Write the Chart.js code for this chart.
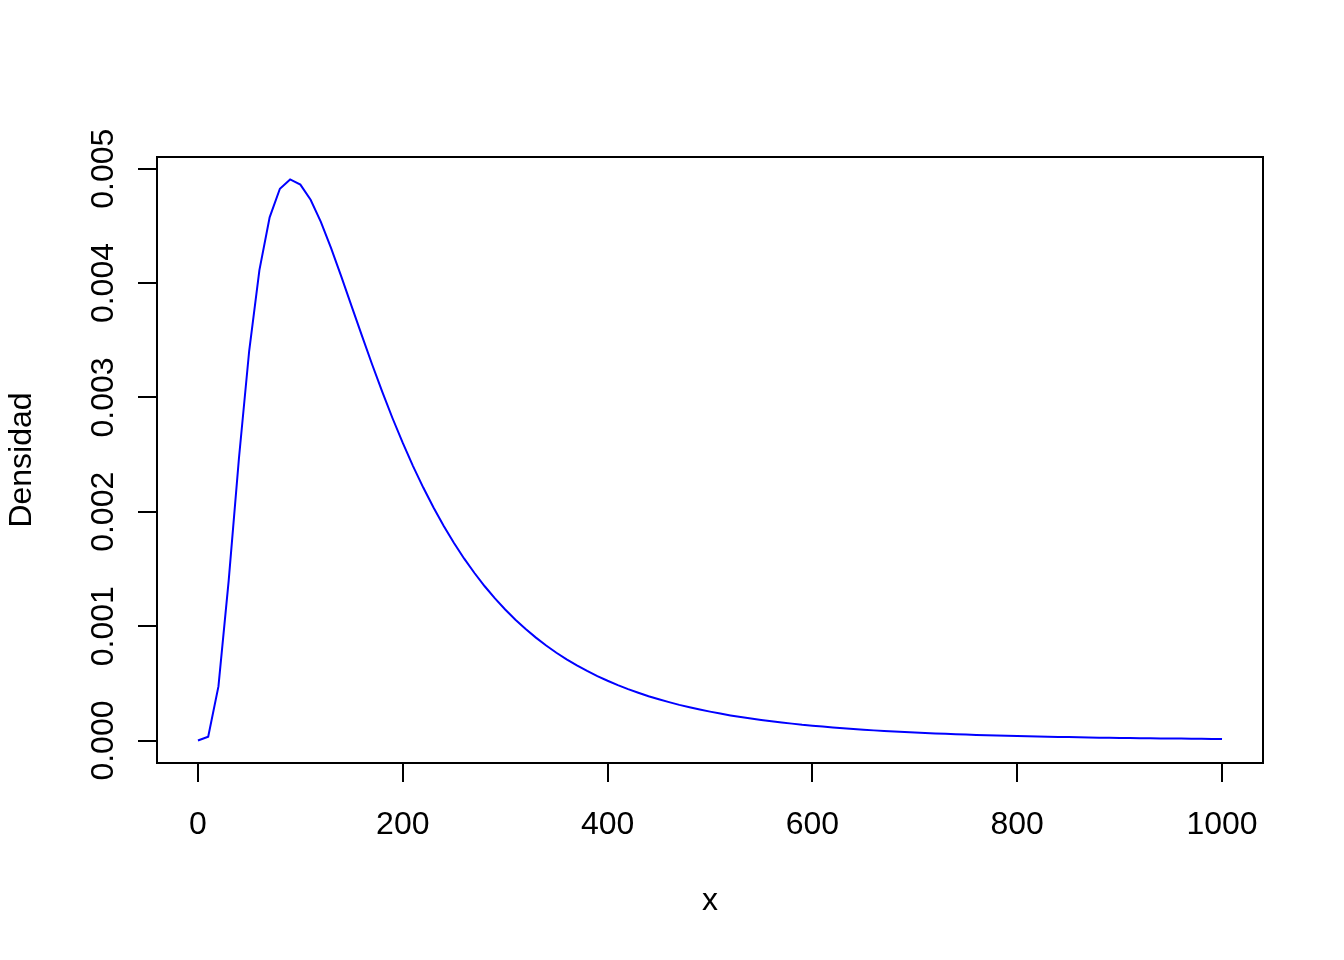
<!DOCTYPE html>
<html>
<head>
<meta charset="utf-8">
<script src="https://cdn.jsdelivr.net/npm/chart.js@4/dist/chart.umd.min.js"></script>
<style>
  body { margin: 0; background: #fff; }
  canvas { display: block; }
</style>
</head>
<body>
<canvas id="densChart" width="1344" height="960"></canvas>
<script>
// x grid of the curve (step 10)
var xs = [0, 10, 20, 30, 40, 50, 60, 70, 80, 90,
  100, 110, 120, 130, 140, 150, 160, 170, 180, 190,
  200, 210, 220, 230, 240, 250, 260, 270, 280, 290,
  300, 310, 320, 330, 340, 350, 360, 370, 380, 390,
  400, 410, 420, 430, 440, 450, 460, 470, 480, 490,
  500, 510, 520, 530, 540, 550, 560, 570, 580, 590,
  600, 610, 620, 630, 640, 650, 660, 670, 680, 690,
  700, 710, 720, 730, 740, 750, 760, 770, 780, 790,
  800, 810, 820, 830, 840, 850, 860, 870, 880, 890,
  900, 910, 920, 930, 940, 950, 960, 970, 980, 990, 1000];

// density
var dens = [0, 0.000034, 0.000473, 0.001399, 0.002466, 0.003406, 0.004113, 0.004575, 0.004825, 0.004906,
  0.004861, 0.004728, 0.004535, 0.004306, 0.004057, 0.003799, 0.003542, 0.003290, 0.003048, 0.002818,
  0.002602, 0.002400, 0.002212, 0.002037, 0.001876, 0.001727, 0.001590, 0.001465, 0.001349, 0.001243,
  0.001146, 0.001057, 0.000975, 0.000900, 0.000831, 0.000768, 0.000710, 0.000657, 0.000609, 0.000564,
  0.000523, 0.000485, 0.000450, 0.000418, 0.000388, 0.000361, 0.000336, 0.000312, 0.000291, 0.000271,
  0.000253, 0.000236, 0.000220, 0.000206, 0.000192, 0.000180, 0.000168, 0.000158, 0.000148, 0.000138,
  0.000130, 0.000122, 0.000114, 0.000107, 0.000101, 0.0000947, 0.0000890, 0.0000837, 0.0000788, 0.0000742,
  0.0000699, 0.0000659, 0.0000621, 0.0000586, 0.0000553, 0.0000522, 0.0000493, 0.0000466, 0.0000440, 0.0000416,
  0.0000394, 0.0000372, 0.0000353, 0.0000334, 0.0000316, 0.0000300, 0.0000284, 0.0000269, 0.0000255, 0.0000242,
  0.0000230, 0.0000218, 0.0000208, 0.0000197, 0.0000187, 0.0000178, 0.0000169, 0.0000161, 0.0000153, 0.0000146,
  0.0000139];

var xTicks = [0, 200, 400, 600, 800, 1000];
var xTickLabels = ["0", "200", "400", "600", "800", "1000"];
var yTicks = [0, 0.001, 0.002, 0.003, 0.004, 0.005];
var yTickLabels = ["0.000", "0.001", "0.002", "0.003", "0.004", "0.005"];

var fontFam = "'Liberation Sans', Arial, Helvetica, sans-serif";

// R style axis range: data range + 4% each side
var xMin = xs[0], xMax = xs[xs.length - 1];
var yMin = Math.min.apply(null, dens), yMax = Math.max.apply(null, dens);
var xPad = (xMax - xMin) * 0.04, yPad = (yMax - yMin) * 0.04;

// box round the plot + rotated y tick labels like base R
var boxPlugin = {
  id: "boxPlugin",
  afterDraw: function (chart) {
    var ctx = chart.ctx;
    var a = chart.chartArea;
    ctx.save();
    ctx.strokeStyle = "#000";
    ctx.lineWidth = 2;
    ctx.strokeRect(a.left, a.top, a.right - a.left, a.bottom - a.top);
    var ys = chart.scales.y;
    ctx.fillStyle = "#000";
    ctx.font = "32px " + fontFam;
    ctx.textAlign = "center";
    ctx.textBaseline = "alphabetic";
    for (var i = 0; i < yTicks.length; i++) {
      var py = ys.getPixelForValue(yTicks[i]);
      ctx.save();
      ctx.translate(113, py);
      ctx.rotate(-Math.PI / 2);
      ctx.fillText(yTickLabels[i], 0, 0);
      ctx.restore();
    }
    ctx.restore();
  }
};

var points = xs.map(function (x, i) { return { x: x, y: dens[i] }; });

var ctx = document.getElementById("densChart").getContext("2d");
var densChart = new Chart(ctx, {
  type: "line",
  data: {
    datasets: [{
      data: points,
      borderColor: "#0000FF",
      borderWidth: 2,
      pointRadius: 0,
      fill: false,
      tension: 0
    }]
  },
  options: {
    responsive: false,
    animation: false,
    devicePixelRatio: 1,
    layout: { padding: { left: 0, top: 157, right: 81, bottom: 0 } },
    plugins: { legend: { display: false }, tooltip: { enabled: false } },
    scales: {
      x: {
        type: "linear",
        min: xMin - xPad,
        max: xMax + xPad,
        afterBuildTicks: function (s) { s.ticks = xTicks.map(function (v) { return { value: v }; }); },
        afterFit: function (s) { s.height = 197; },
        border: { display: false },
        grid: { drawOnChartArea: false, drawTicks: true, tickLength: 19, color: "#000", lineWidth: 2 },
        ticks: {
          color: "#000", font: { family: fontFam, size: 32 }, padding: 24, maxRotation: 0, autoSkip: false,
          callback: function (v, i) { return xTickLabels[i]; }
        },
        title: { display: true, text: "x", color: "#000", font: { family: fontFam, size: 32 }, padding: { bottom: 40 } }
      },
      y: {
        type: "linear",
        min: yMin - yPad,
        max: yMax + yPad,
        afterBuildTicks: function (s) { s.ticks = yTicks.map(function (v) { return { value: v }; }); },
        afterFit: function (s) { s.width = 157; },
        border: { display: false },
        grid: { drawOnChartArea: false, drawTicks: true, tickLength: 19, color: "#000", lineWidth: 2 },
        ticks: { display: false },
        title: { display: true, text: "Densidad", color: "#000", font: { family: fontFam, size: 32 }, padding: { top: 3 } }
      }
    }
  },
  plugins: [boxPlugin]
});
</script>
</body>
</html>
